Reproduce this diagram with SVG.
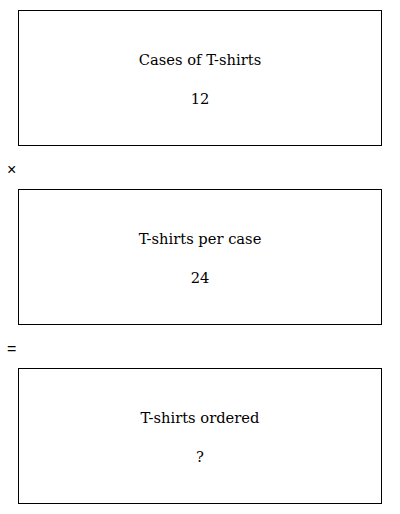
<svg xmlns="http://www.w3.org/2000/svg" width="400" height="514" viewBox="0 0 400 514">
<style>
.box{fill:#fff;stroke:#000;stroke-width:1}
.t{font-family:"DejaVu Serif",serif;font-size:14.7px;fill:#000;text-anchor:middle}
.op{font-family:"Liberation Sans",Arial,sans-serif;font-size:16px;fill:#000}
</style>
<rect width="400" height="514" fill="#fff"/>
<g id="node-cases">
<rect class="box" x="18.5" y="10.5" width="363" height="135"/>
<text class="t" x="200" y="65">Cases of T-shirts</text>
<text class="t" x="200" y="104">12</text>
</g>
<g id="op-times"><text class="op" x="7" y="175">×</text></g>
<g id="node-per-case">
<rect class="box" x="18.5" y="189.5" width="363" height="135"/>
<text class="t" x="200" y="244">T-shirts per case</text>
<text class="t" x="200" y="283">24</text>
</g>
<g id="op-equals"><text class="op" x="7" y="354">=</text></g>
<g id="node-ordered">
<rect class="box" x="18.5" y="368.5" width="363" height="135"/>
<text class="t" x="200" y="423">T-shirts ordered</text>
<text class="t" x="200" y="462">?</text>
</g>
<g id="connectors"></g>
</svg>
